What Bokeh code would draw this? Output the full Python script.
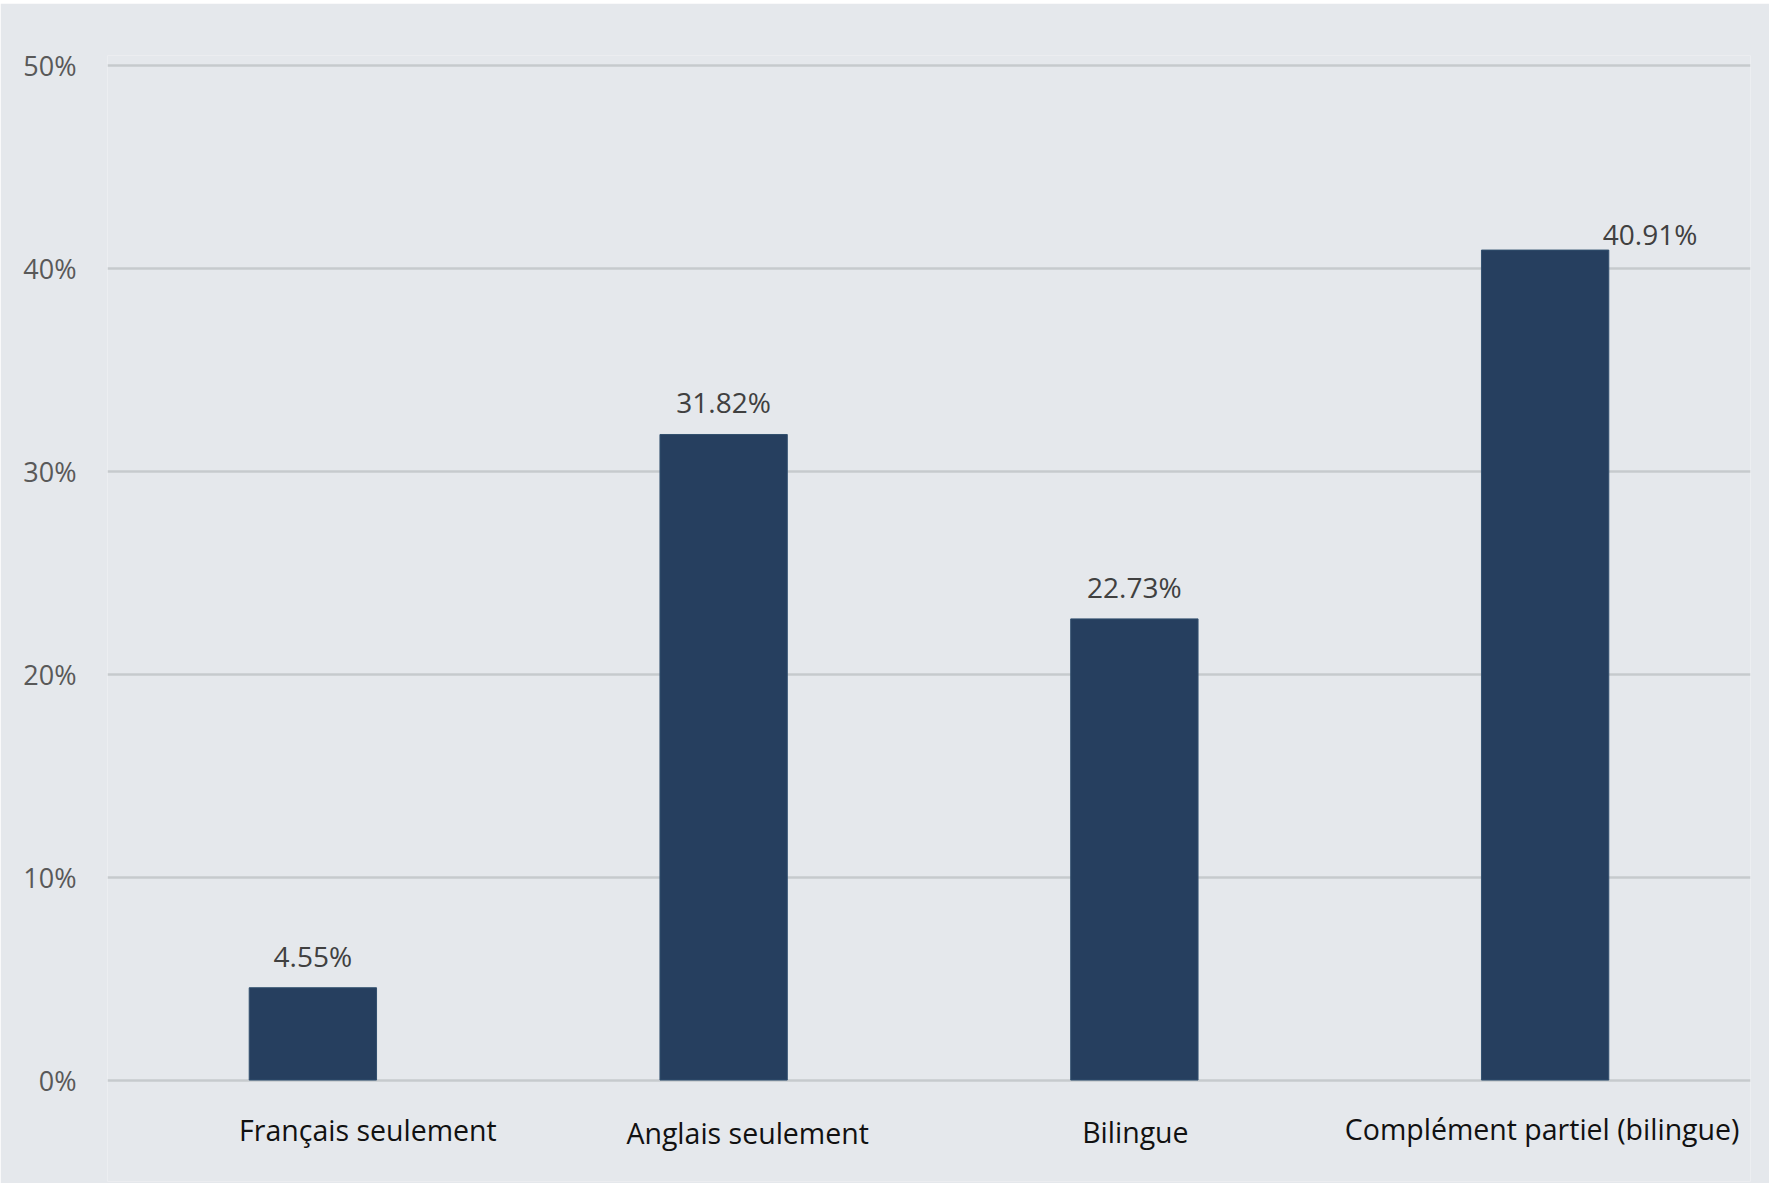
from bokeh.plotting import figure
from bokeh.models import FactorRange, Range1d, FixedTicker, ColumnDataSource
from bokeh.core.properties import value
from bokeh.embed import file_html
from bokeh.resources import INLINE

# ---- data ----
categories = ["Français seulement", "Anglais seulement", "Bilingue", "Complément partiel (bilingue)"]
values = [4.55, 31.82, 22.73, 40.91]
value_labels = ["4.55%", "31.82%", "22.73%", "40.91%"]
y_ticks = [0, 10, 20, 30, 40, 50]
y_tick_labels = ["0%", "10%", "20%", "30%", "40%", "50%"]

# ---- styles ----
BG = "#e5e8ec"
BAR = "#263f5f"
GRID = "#c6cacd"
FONT = "Open Sans"
label_dx = [0, 0, 0, 105]
label_dy = [-32, -32, -32, -16]
cat_dx = [55, 24, 1, -3]
cat_dy = [50, 53, 52, 49]

src = ColumnDataSource(dict(cat=categories, val=values, lab=value_labels,
                            ldx=label_dx, ldy=label_dy, cdx=cat_dx, cdy=cat_dy,
                            zero=[0] * len(categories)))

p = figure(x_range=FactorRange(*categories, range_padding=0),
           y_range=Range1d(-5, 50.5),
           width=1769, height=1180,
           output_backend="svg", toolbar_location=None,
           x_axis_location=None,
           min_border_left=107, min_border_right=19,
           min_border_top=52, min_border_bottom=2,
           background_fill_color=BG, border_fill_color=BG,
           outline_line_color=None)
p.margin = (3, 2, 4, 0)

p.vbar(x="cat", top="val", width=0.31, source=src,
       fill_color=BAR, line_color="#32506f", line_width=1)

p.text(x="cat", y="val", text="lab", x_offset="ldx", y_offset="ldy", source=src,
       text_font=value(FONT), text_font_size="28px", text_color="#404040",
       text_align="center", text_baseline="middle")

p.text(x="cat", y="zero", text="cat", x_offset="cdx", y_offset="cdy", source=src,
       text_font=value(FONT), text_font_size="28.5px", text_color="#111111",
       text_align="center", text_baseline="middle")

ax = p.yaxis[0]
ax.ticker = FixedTicker(ticks=y_ticks)
ax.major_label_overrides = {t: l for t, l in zip(y_ticks, y_tick_labels)}
ax.axis_line_color = None
ax.major_tick_line_color = None
ax.minor_tick_line_color = None
ax.major_tick_out = 0
ax.major_label_standoff = 31
ax.major_label_text_font = FONT
ax.major_label_text_font_size = "27px"
ax.major_label_text_color = "#595959"

p.xgrid.grid_line_color = None
p.ygrid.ticker = FixedTicker(ticks=y_ticks)
p.ygrid.grid_line_color = GRID
p.ygrid.grid_line_width = 2.5

open("out.html", "w").write(file_html(p, INLINE))
